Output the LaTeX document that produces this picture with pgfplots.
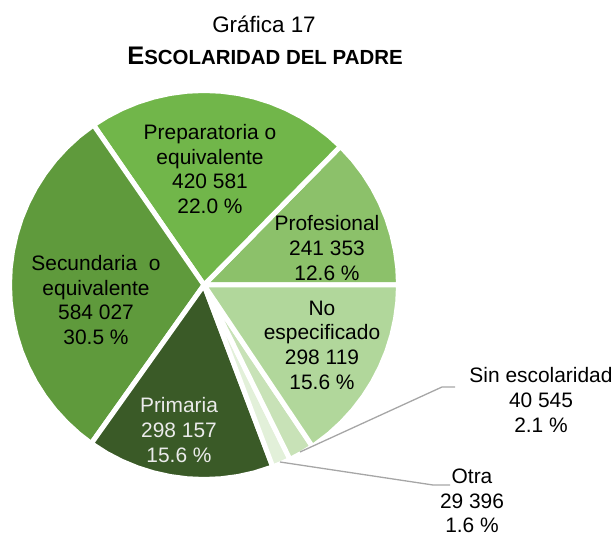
\documentclass[border=0pt]{standalone}
\usepackage{pgfplots}
\pgfplotsset{compat=1.18}
\usepackage{fontspec}
\setmainfont{Liberation Sans}
\definecolor{cprof}{HTML}{8CC16A}
\definecolor{cprep}{HTML}{71B64A}
\definecolor{csec}{HTML}{5F9A3C}
\definecolor{cprim}{HTML}{3A5A27}
\definecolor{cotra}{HTML}{E2F0D9}
\definecolor{csin}{HTML}{C8E2B7}
\definecolor{cnoe}{HTML}{B1D79B}
\definecolor{clead}{HTML}{A6A6A6}
\begin{document}
\begin{tikzpicture}
\begin{axis}[
  width=615bp, height=536bp, scale only axis,
  xmin=-204, xmax=411, ymin=-251, ymax=285,
  hide axis, clip=false,
]
% Values: Profesional 241353, Preparatoria 420581, Secundaria 584027,
% Primaria 298157, Otra 29396, Sin escolaridad 40545, No especificado 298119
% slice angles (degrees, counter-clockwise from 3 o'clock), radius 194.5
\pgfplotsset{every axis plot/.append style={draw=white, line width=5bp, line join=round}}
% Profesional 0 -> 45.44
\addplot[fill=cprof, data cs=polar] coordinates {(0,0) (0,194.5) (5,194.5) (10,194.5) (15,194.5) (20,194.5) (25,194.5) (30,194.5) (35,194.5) (40,194.5) (45,194.5) (45.44,194.5) (0,0)} -- cycle;
% Preparatoria 45.44 -> 124.62
\addplot[fill=cprep, data cs=polar] coordinates {(0,0) (45.44,194.5) (50,194.5) (55,194.5) (60,194.5) (65,194.5) (70,194.5) (75,194.5) (80,194.5) (85,194.5) (90,194.5) (95,194.5) (100,194.5) (105,194.5) (110,194.5) (115,194.5) (120,194.5) (124.62,194.5) (0,0)} -- cycle;
% Secundaria 124.62 -> 234.57
\addplot[fill=csec, data cs=polar] coordinates {(0,0) (124.62,194.5) (130,194.5) (135,194.5) (140,194.5) (145,194.5) (150,194.5) (155,194.5) (160,194.5) (165,194.5) (170,194.5) (175,194.5) (180,194.5) (185,194.5) (190,194.5) (195,194.5) (200,194.5) (205,194.5) (210,194.5) (215,194.5) (220,194.5) (225,194.5) (230,194.5) (234.57,194.5) (0,0)} -- cycle;
% Primaria 234.57 -> 290.71
\addplot[fill=cprim, data cs=polar] coordinates {(0,0) (234.57,194.5) (240,194.5) (245,194.5) (250,194.5) (255,194.5) (260,194.5) (265,194.5) (270,194.5) (275,194.5) (280,194.5) (285,194.5) (290.71,194.5) (0,0)} -- cycle;
% Otra 290.71 -> 296.24
\addplot[fill=cotra, data cs=polar] coordinates {(0,0) (290.71,194.5) (293.5,194.5) (296.24,194.5) (0,0)} -- cycle;
% Sin escolaridad 296.24 -> 303.87
\addplot[fill=csin, data cs=polar] coordinates {(0,0) (296.24,194.5) (300,194.5) (303.87,194.5) (0,0)} -- cycle;
% No especificado 303.87 -> 360
\addplot[fill=cnoe, data cs=polar] coordinates {(0,0) (303.87,194.5) (305,194.5) (310,194.5) (315,194.5) (320,194.5) (325,194.5) (330,194.5) (335,194.5) (340,194.5) (345,194.5) (350,194.5) (355,194.5) (360,194.5) (0,0)} -- cycle;
% leader lines
\addplot[draw=clead, line width=1.3bp, line join=miter] coordinates {(96,-167) (238,-102) (251,-102)};
\addplot[draw=clead, line width=1.3bp, line join=miter] coordinates {(76,-177) (229,-200) (246,-200)};

\coordinate (bl) at (axis cs:-204,-251);
\coordinate (tr) at (axis cs:411,285);

\begin{scope}[every node/.style={align=center, inner sep=0pt, font=\fontsize{21}{24.8}\selectfont}]
\node at (axis cs:60,261) {\fontsize{22.5}{26}\selectfont Gráfica 17};
\node at (axis cs:61,229) {\bfseries{\fontsize{25.5}{26}\selectfont E}{\fontsize{20.5}{26}\selectfont SCOLARIDAD DEL PADRE}};
\node at (axis cs:6,116) {Preparatoria o\\equivalente\\420 581\\22.0 \%};
\node at (axis cs:123,37) {Profesional\\241 353\\12.6 \%};
\node at (axis cs:118,-60) {No\\especificado\\298 119\\15.6 \%};
\node at (axis cs:-108,-15) {Secundaria~ o\\equivalente\\584 027\\30.5 \%};
\node[text=white!92!black] at (axis cs:-25,-145) {Primaria\\298 157\\15.6 \%};
\node at (axis cs:337,-115) {Sin escolaridad\\40 545\\2.1 \%};
\node at (axis cs:268,-216) {Otra\\29 396\\1.6 \%};
\end{scope}
\end{axis}
\pgfresetboundingbox
\useasboundingbox (bl) rectangle (tr);
\end{tikzpicture}
\end{document}
